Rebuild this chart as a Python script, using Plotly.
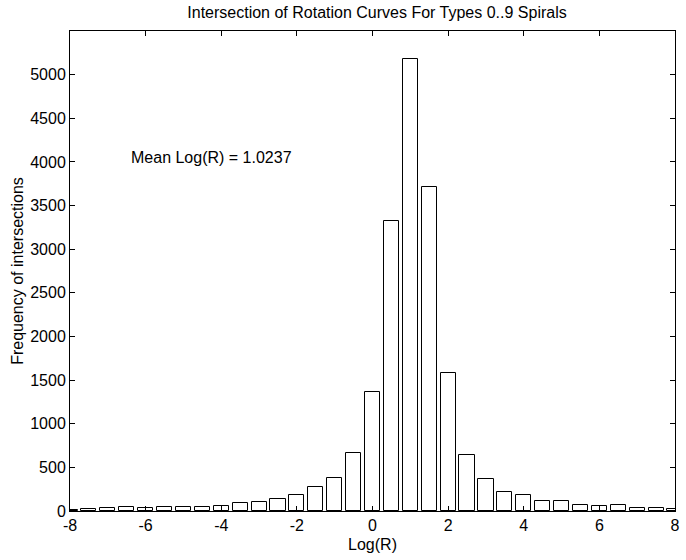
import plotly.graph_objects as go

bin_centers = [-8.0, -7.5, -7.0, -6.5, -6.0, -5.5, -5.0, -4.5, -4.0, -3.5, -3.0, -2.5,
               -2.0, -1.5, -1.0, -0.5, 0.0, 0.5, 1.0, 1.5, 2.0, 2.5, 3.0, 3.5, 4.0,
               4.5, 5.0, 5.5, 6.0, 6.5, 7.0, 7.5, 8.0]
counts = [15, 22, 38, 42, 36, 42, 50, 50, 58, 88, 99, 141, 180, 275, 374, 665, 1365,
          3328, 5182, 3714, 1582, 642, 368, 222, 188, 120, 112, 74, 62, 70, 38, 34, 27]
x_ticks = [-8, -6, -4, -2, 0, 2, 4, 6, 8]
y_ticks = [0, 500, 1000, 1500, 2000, 2500, 3000, 3500, 4000, 4500, 5000]

title_text = "Intersection of Rotation Curves For Types 0..9 Spirals"
xlabel = "Log(R)"
ylabel = "Frequency of intersections"
annot_text = "Mean Log(R) = 1.0237"

font_family = "Liberation Sans, Arial, Helvetica, sans-serif"
fs = 16

fig = go.Figure()
fig.add_trace(go.Bar(
    x=bin_centers, y=counts, width=0.4,
    marker=dict(color="white", line=dict(color="black", width=1)),
    showlegend=False,
))

axis_common = dict(
    showline=True, linecolor="black", linewidth=1, mirror="ticks",
    ticks="inside", ticklen=5, tickcolor="black", tickwidth=1,
    showgrid=False, zeroline=False,
    tickfont=dict(family=font_family, size=fs, color="black"),
)

fig.update_layout(
    width=686, height=560,
    margin=dict(l=70, r=6, t=31, b=49),
    paper_bgcolor="white", plot_bgcolor="white",
    font=dict(family=font_family, size=fs, color="black"),
    title=dict(text=title_text, x=377 / 686, xanchor="center", y=1 - 12 / 560,
               yanchor="middle", font=dict(size=fs, family=font_family)),
    bargap=0,
    xaxis=dict(range=[-8, 8], tickvals=x_ticks, ticktext=[str(v) for v in x_ticks],
               title=dict(text=xlabel, standoff=5, font=dict(size=fs)), **axis_common),
    yaxis=dict(range=[0, 5500], tickvals=y_ticks, ticktext=[str(v) for v in y_ticks],
               title=dict(text=ylabel, standoff=2, font=dict(size=fs)), **axis_common),
    annotations=[dict(x=-6.45, y=4050, xref="x", yref="y", text=annot_text,
                      showarrow=False, xanchor="left", yanchor="middle",
                      font=dict(size=fs, family=font_family, color="black"))],
)

fig.write_html("out.html")
